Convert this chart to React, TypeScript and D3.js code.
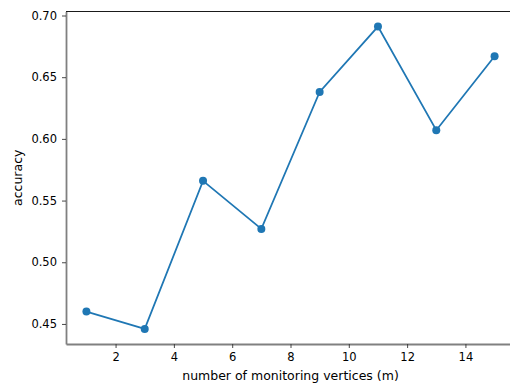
import { useEffect, useRef } from 'react';
import * as d3 from 'd3';

const vertices = [1, 3, 5, 7, 9, 11, 13, 15];
const accuracy = [0.46, 0.446, 0.566, 0.527, 0.638, 0.691, 0.607, 0.667];
const xTicks = [2, 4, 6, 8, 10, 12, 14];
const yTicks = [0.45, 0.5, 0.55, 0.6, 0.65, 0.7];

export default function App() {
  const svgRef = useRef<SVGSVGElement>(null);

  useEffect(() => {
    if (!svgRef.current) return;
    const svg = d3.select(svgRef.current);
    svg.selectAll('*').remove();

    const W = 510;
    const H = 385;
    const margin = { top: 11.5, right: -5, bottom: 41, left: 66 };
    const font = '"DejaVu Sans", sans-serif';

    // matplotlib style 5% padding
    const [x0, x1] = d3.extent(vertices) as [number, number];
    const [y0, y1] = d3.extent(accuracy) as [number, number];
    const xPad = (x1 - x0) * 0.05;
    const yPad = (y1 - y0) * 0.05;

    const x = d3
      .scaleLinear()
      .domain([x0 - xPad, x1 + xPad])
      .range([margin.left, W - margin.right]);
    const y = d3
      .scaleLinear()
      .domain([y0 - yPad, y1 + yPad])
      .range([H - margin.bottom, margin.top]);

    const bottom = H - margin.bottom;

    // top spine
    svg
      .append('line')
      .attr('x1', margin.left)
      .attr('x2', W - margin.right)
      .attr('y1', margin.top)
      .attr('y2', margin.top)
      .attr('stroke', '#000')
      .attr('stroke-width', 0.9);

    // x axis
    const xAxis = svg
      .append('g')
      .attr('transform', `translate(0,${bottom})`)
      .call(
        d3
          .axisBottom(x)
          .tickValues(xTicks)
          .tickSizeInner(4)
          .tickSizeOuter(0)
          .tickPadding(5)
          .tickFormat(d3.format('d'))
      );
    xAxis.select('.domain').attr('stroke', '#808080').attr('stroke-width', 1.8);
    xAxis.selectAll('.tick line').attr('stroke', '#333').attr('stroke-width', 0.9);
    xAxis.selectAll('.tick text').attr('font-family', font).attr('font-size', 11.5).attr('fill', '#000');

    // y axis
    const yAxis = svg
      .append('g')
      .attr('transform', `translate(${margin.left},0)`)
      .call(
        d3
          .axisLeft(y)
          .tickValues(yTicks)
          .tickSizeInner(4)
          .tickSizeOuter(0)
          .tickPadding(5)
          .tickFormat(d3.format('.2f'))
      );
    yAxis.select('.domain').attr('stroke', '#808080').attr('stroke-width', 1.8);
    yAxis.selectAll('.tick line').attr('stroke', '#333').attr('stroke-width', 0.9);
    yAxis.selectAll('.tick text').attr('font-family', font).attr('font-size', 11.5).attr('fill', '#000');

    // line
    const line = d3
      .line<number>()
      .x((_, i) => x(vertices[i]))
      .y((d) => y(d));

    svg
      .append('path')
      .datum(accuracy)
      .attr('d', line)
      .attr('fill', 'none')
      .attr('stroke', '#1f77b4')
      .attr('stroke-width', 1.75);

    svg
      .selectAll('.pt')
      .data(accuracy)
      .enter()
      .append('circle')
      .attr('class', 'pt')
      .attr('cx', (_, i) => x(vertices[i]))
      .attr('cy', (d) => y(d))
      .attr('r', 4)
      .attr('fill', '#1f77b4');

    // axis labels
    svg
      .append('text')
      .attr('x', (margin.left + W - margin.right) / 2)
      .attr('y', 379.5)
      .attr('text-anchor', 'middle')
      .attr('font-family', font)
      .attr('font-size', 12.5)
      .text('number of monitoring vertices (m)');

    svg
      .append('text')
      .attr('transform', `translate(21.5,${(margin.top + bottom) / 2}) rotate(-90)`)
      .attr('text-anchor', 'middle')
      .attr('font-family', font)
      .attr('font-size', 12.5)
      .text('accuracy');
  }, []);

  return (
    <svg
      ref={svgRef}
      width={510}
      height={385}
      style={{ position: 'absolute', left: 0, top: 0, background: '#fff' }}
    />
  );
}
